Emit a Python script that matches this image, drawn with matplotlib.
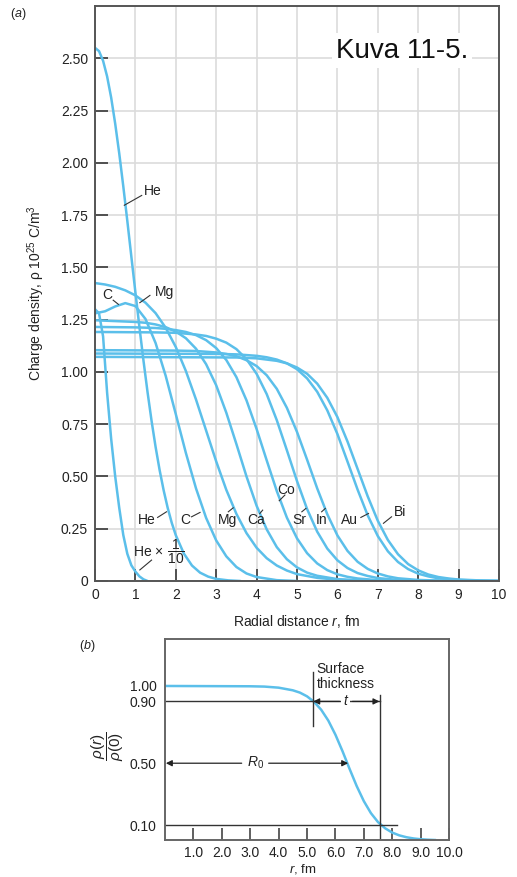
import numpy as np
import matplotlib.pyplot as plt

plt.rcParams['font.family'] = ['Liberation Sans', 'DejaVu Sans']
plt.rcParams['mathtext.fontset'] = 'custom'
plt.rcParams['mathtext.rm'] = 'Liberation Sans'
plt.rcParams['mathtext.it'] = 'Liberation Sans:italic'
plt.rcParams['mathtext.bf'] = 'Liberation Sans:bold'

# ------------------------
# Data: charge density, 10^25 C/m^3
# ------------------------
r_he = [0, 0.1, 0.2, 0.3, 0.4, 0.5, 0.6, 0.7, 0.8, 0.9, 1.0, 1.1, 1.2, 1.3, 1.4,
        1.5, 1.6, 1.7, 1.8, 1.9, 2.0, 2.2, 2.4, 2.6, 2.8, 3.0, 3.3, 3.6]
rho_he = [2.55, 2.534, 2.488, 2.413, 2.312, 2.187, 2.045, 1.888, 1.722, 1.551,
          1.381, 1.214, 1.054, 0.904, 0.766, 0.641, 0.530, 0.433, 0.349, 0.278,
          0.219, 0.131, 0.074, 0.040, 0.021, 0.010, 0.003, 0.0]

r_he10 = [0, 0.1, 0.2, 0.3, 0.4, 0.5, 0.6, 0.7, 0.8, 0.9, 1.0, 1.1, 1.2, 1.3]
rho_he10 = [1.30, 1.28, 1.17, 0.90, 0.68, 0.50, 0.35, 0.22, 0.13, 0.075, 0.045,
            0.022, 0.008, 0.0]

r_c = [0, 0.25, 0.5, 0.75, 1.0, 1.25, 1.5, 1.75, 2.0, 2.25, 2.5, 2.75, 3.0,
       3.25, 3.5, 3.75, 4.0, 4.5, 5.0]
rho_c = [1.28, 1.29, 1.313, 1.329, 1.315, 1.253, 1.138, 0.981, 0.798, 0.612,
         0.443, 0.302, 0.194, 0.118, 0.067, 0.036, 0.019, 0.004, 0.0]

r_mg = [0, 0.25, 0.5, 0.75, 1.0, 1.25, 1.5, 1.75, 2.0, 2.25, 2.5, 2.75, 3.0,
        3.25, 3.5, 3.75, 4.0, 4.25, 4.5, 4.75, 5.0, 5.5, 6.0, 6.5, 7.0, 8.0]
rho_mg = [1.425, 1.418, 1.407, 1.390, 1.366, 1.331, 1.281, 1.211, 1.119, 1.004,
          0.868, 0.720, 0.572, 0.436, 0.321, 0.229, 0.159, 0.109, 0.074, 0.050,
          0.033, 0.015, 0.006, 0.003, 0.001, 0.0]

r_ca = [0, 1.0, 1.25, 1.5, 1.75, 2.0, 2.25, 2.5, 2.75, 3.0, 3.25, 3.5, 3.75,
        4.0, 4.25, 4.5, 4.75, 5.0, 5.25, 5.5, 6.0, 6.5, 7.0, 8.0]
rho_ca = [1.247, 1.239, 1.235, 1.227, 1.214, 1.193, 1.161, 1.111, 1.037, 0.936,
          0.805, 0.655, 0.500, 0.360, 0.247, 0.162, 0.104, 0.065, 0.040, 0.025,
          0.009, 0.003, 0.001, 0.0]

r_co = [0, 1.0, 1.5, 1.75, 2.0, 2.25, 2.5, 2.75, 3.0, 3.25, 3.5, 3.75, 4.0,
        4.25, 4.5, 4.75, 5.0, 5.25, 5.5, 5.75, 6.0, 6.25, 6.5, 7.0, 7.5, 8.5]
rho_co = [1.215, 1.213, 1.210, 1.206, 1.200, 1.191, 1.176, 1.152, 1.114, 1.057,
          0.975, 0.864, 0.727, 0.577, 0.430, 0.303, 0.204, 0.133, 0.084, 0.052,
          0.032, 0.020, 0.012, 0.004, 0.0015, 0.0]

r_sr = [0, 1.5, 2.0, 2.5, 2.75, 3.0, 3.25, 3.5, 3.75, 4.0, 4.25, 4.5, 4.75,
        5.0, 5.25, 5.5, 5.75, 6.0, 6.25, 6.5, 6.75, 7.0, 7.5, 8.0, 9.0]
rho_sr = [1.191, 1.189, 1.187, 1.179, 1.172, 1.159, 1.140, 1.109, 1.061, 0.991,
          0.894, 0.769, 0.625, 0.478, 0.344, 0.236, 0.155, 0.099, 0.062, 0.038,
          0.024, 0.014, 0.005, 0.002, 0.0]

r_in = [0, 2.0, 2.5, 3.0, 3.25, 3.5, 3.75, 4.0, 4.25, 4.5, 4.75, 5.0, 5.25,
        5.5, 5.75, 6.0, 6.25, 6.5, 6.75, 7.0, 7.25, 7.5, 8.0, 8.5, 9.5]
rho_in = [1.104, 1.102, 1.100, 1.093, 1.086, 1.075, 1.056, 1.028, 0.984, 0.919,
          0.828, 0.713, 0.580, 0.443, 0.319, 0.218, 0.144, 0.092, 0.058, 0.036,
          0.022, 0.013, 0.005, 0.002, 0.0]

r_au = [0, 3.0, 3.5, 4.0, 4.25, 4.5, 4.75, 5.0, 5.25, 5.5, 5.75, 6.0, 6.25,
        6.5, 6.75, 7.0, 7.25, 7.5, 7.75, 8.0, 8.25, 8.5, 9.0, 9.5, 10.0]
rho_au = [1.088, 1.086, 1.084, 1.077, 1.070, 1.059, 1.041, 1.013, 0.969, 0.905,
          0.816, 0.703, 0.571, 0.437, 0.314, 0.215, 0.142, 0.091, 0.057, 0.035,
          0.022, 0.013, 0.005, 0.002, 0.001]

r_bi = [0, 3.5, 4.0, 4.5, 4.75, 5.0, 5.25, 5.5, 5.75, 6.0, 6.25, 6.5, 6.75,
        7.0, 7.25, 7.5, 7.75, 8.0, 8.25, 8.5, 8.75, 9.0, 9.5, 10.0]
rho_bi = [1.072, 1.069, 1.065, 1.053, 1.041, 1.021, 0.991, 0.944, 0.876, 0.784,
          0.667, 0.536, 0.405, 0.288, 0.196, 0.128, 0.081, 0.051, 0.031, 0.019,
          0.012, 0.007, 0.003, 0.001]

curves_a = [(r_he, rho_he), (r_he10, rho_he10), (r_c, rho_c), (r_mg, rho_mg),
            (r_ca, rho_ca), (r_co, rho_co), (r_sr, rho_sr), (r_in, rho_in),
            (r_au, rho_au), (r_bi, rho_bi)]

y_ticks_a = [0, 0.25, 0.5, 0.75, 1.0, 1.25, 1.5, 1.75, 2.0, 2.25, 2.5]
y_labels_a = ['0', '0.25', '0.50', '0.75', '1.00', '1.25', '1.50', '1.75',
              '2.00', '2.25', '2.50']
x_ticks_a = list(range(0, 11))

# ------------------------
# Data: normalised density
# ------------------------
r_b = [0, 3.0, 3.5, 4.0, 4.5, 4.75, 5.0, 5.25, 5.5, 5.75, 6.0, 6.25, 6.5,
       6.75, 7.0, 7.25, 7.5, 7.75, 8.0, 8.25, 8.5, 8.75, 9.0, 9.25, 9.5]
ratio_b = [1.0, 0.998, 0.996, 0.989, 0.972, 0.957, 0.933, 0.897, 0.846, 0.776,
           0.685, 0.578, 0.463, 0.352, 0.255, 0.177, 0.119, 0.079, 0.051,
           0.033, 0.021, 0.013, 0.008, 0.005, 0.003]
x_ticks_b = [1, 2, 3, 4, 5, 6, 7, 8, 9, 10]
x_labels_b = ['1.0', '2.0', '3.0', '4.0', '5.0', '6.0', '7.0', '8.0', '9.0', '10.0']
y_ticks_b = [0.10, 0.50, 0.90, 1.00]
y_labels_b = ['0.10', '0.50', '0.90', '1.00']

BLUE = '#5bbfea'
INK = '#222222'
SPINE = '#555555'
W, H = 517, 877

fig = plt.figure(figsize=(W / 100, H / 100), dpi=100)

# ------------------------
# Panel (a)
# ------------------------
ax = fig.add_axes([95 / W, 1 - 581 / H, 404 / W, 575 / H])
ax.set_xlim(0, 10)
ax.set_ylim(0, 2.75)
ax.set_xticks(x_ticks_a)
ax.set_yticks(y_ticks_a)
ax.set_yticklabels(y_labels_a)
ax.grid(True, color='#dcdcdc', lw=1.2)
ax.set_axisbelow(True)
ax.tick_params(direction='in', length=9, width=1.3, color='#444444',
               labelsize=10, labelcolor=INK, pad=5)
for s in ax.spines.values():
    s.set_color(SPINE)
    s.set_linewidth(1.4)

for r, rho in curves_a:
    ax.plot(r, rho, color=BLUE, lw=1.8, solid_capstyle='round')

ax.set_ylabel(r'Charge density, ρ 10$^{25}$ C/m$^3$', fontsize=10, color=INK,
              labelpad=10)
ax.set_xlabel(r'Radial distance $r$, fm', fontsize=10, color=INK, labelpad=8)

ax.text(7.6, 2.537, 'Kuva 11-5.', fontsize=20, ha='center', va='center',
        color='#111111', bbox=dict(facecolor='white', edgecolor='none', pad=3))

# labels with pointer lines: (text, tx, ty, x1, y1, x2, y2)
labels_a = [
    ('He', 1.44, 1.863, 1.156, 1.844, 0.725, 1.797),
    ('Mg', 1.73, 1.381, 1.36, 1.366, 1.11, 1.331),
    ('C', 0.31, 1.366, 0.45, 1.343, 0.58, 1.323),
    ('He', 1.29, 0.291, 1.55, 0.304, 1.77, 0.331),
    ('C', 2.23, 0.291, 2.39, 0.307, 2.60, 0.328),
    ('Mg', 3.28, 0.291, 3.30, 0.331, 3.42, 0.350),
    ('Ca', 4.00, 0.291, 4.08, 0.323, 4.15, 0.339),
    ('Co', 4.72, 0.435, 4.70, 0.411, 4.56, 0.384),
    ('Sr', 5.05, 0.291, 5.12, 0.331, 5.22, 0.347),
    ('In', 5.61, 0.291, 5.61, 0.331, 5.70, 0.347),
    ('Au', 6.31, 0.291, 6.58, 0.304, 6.77, 0.323),
    ('Bi', 7.55, 0.331, 7.34, 0.307, 7.14, 0.276),
]
for txt, tx, ty, x1, y1, x2, y2 in labels_a:
    ax.text(tx, ty, txt, fontsize=10, ha='center', va='center', color=INK)
    ax.plot([x1, x2], [y1, y2], color='#333333', lw=0.8)

ax.text(0.93, 0.139, r'He$\,\times\,\dfrac{1}{10}$', fontsize=10, ha='left',
        va='center', color=INK)
ax.plot([1.40, 1.11], [0.100, 0.053], color='#333333', lw=0.8)

fig.text(10 / W, 1 - 14 / H, r'($a$)', fontsize=9, color=INK, va='center')

# ------------------------
# Panel (b)
# ------------------------
bx = fig.add_axes([165 / W, 1 - 840 / H, 284 / W, 201 / H])
bx.set_xlim(0, 10)
bx.set_ylim(0.003, 1.304)
bx.plot(r_b, ratio_b, color=BLUE, lw=1.8)
bx.set_xticks(x_ticks_b)
bx.set_xticklabels(x_labels_b)
bx.set_yticks(y_ticks_b)
bx.set_yticklabels(y_labels_b)
bx.tick_params(axis='x', direction='in', length=9, width=1.2, color='#444444',
               labelsize=10, labelcolor=INK, pad=4)
bx.tick_params(axis='y', length=0, labelsize=10, labelcolor=INK, pad=6)
for s in bx.spines.values():
    s.set_color('#666666')
    s.set_linewidth(1.4)

line_kw = dict(color='#333333', lw=1.0)
bx.plot([0, 7.57], [0.90, 0.90], **line_kw)
bx.plot([0, 8.16], [0.10, 0.10], **line_kw)
bx.plot([7.57, 7.57], [0.003, 0.94], **line_kw)
bx.plot([5.20, 5.20], [0.74, 1.09], **line_kw)

arrow_kw = dict(arrowstyle='-|>', color='#222222', lw=0.9, shrinkA=0,
                shrinkB=0, mutation_scale=9)
bx.annotate('', xy=(5.22, 0.9), xytext=(6.15, 0.9), arrowprops=arrow_kw)
bx.annotate('', xy=(7.55, 0.9), xytext=(6.6, 0.9), arrowprops=arrow_kw)
bx.text(6.37, 0.9, r'$t$', fontsize=10, ha='center', va='center', color=INK,
        bbox=dict(facecolor='white', edgecolor='none', pad=1))
bx.annotate('', xy=(0.03, 0.5), xytext=(2.7, 0.5), arrowprops=arrow_kw)
bx.annotate('', xy=(6.45, 0.5), xytext=(3.65, 0.5), arrowprops=arrow_kw)
bx.text(3.2, 0.5, r'$R_0$', fontsize=10, ha='center', va='center', color=INK)
bx.text(5.34, 1.06, 'Surface\nthickness', fontsize=10, ha='left', va='center',
        color=INK, linespacing=1.05)

fig.text(108 / W, 1 - 746 / H, r'$\dfrac{\rho(r)}{\rho(0)}$', fontsize=11,
         rotation=90, ha='center', va='center', color=INK)
fig.text(303 / W, 1 - 876 / H, r'$r$, fm', fontsize=9.5, ha='center',
         va='bottom', color=INK)
fig.text(87 / W, 1 - 646 / H, r'($b$)', fontsize=9, ha='center', va='center',
         color=INK)

fig.savefig('out.png', dpi=100)
